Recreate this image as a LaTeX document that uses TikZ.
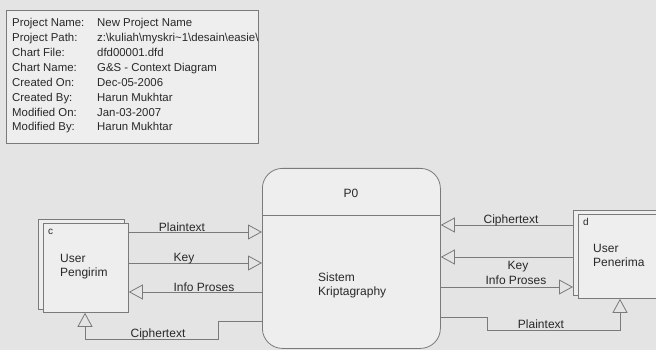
\documentclass[tikz,border=0pt]{standalone}
\usepackage{fontspec}
\setmainfont{Liberation Sans}
\usetikzlibrary{arrows.meta}
\definecolor{bg}{HTML}{E4E4E4}
\definecolor{boxfill}{HTML}{EEEEEE}
\definecolor{ln}{HTML}{7A7A7A}
\definecolor{txt}{HTML}{282828}
\begin{document}
\begin{tikzpicture}[x=1pt,y=-1pt,
  infotxt/.style={font=\fontsize{11.4}{13}\selectfont, text=txt, inner sep=0pt, anchor=base west},
  dtxt/.style={font=\fontsize{12}{14}\selectfont, text=txt, inner sep=0pt},
  tagtxt/.style={font=\fontsize{10}{12}\selectfont, text=txt, inner sep=0pt, anchor=base west},
  flowlbl/.style={dtxt, anchor=base},
  entbox/.style={draw=ln, fill=boxfill, line width=0.8pt, anchor=north west, inner sep=0pt},
  arr/.style={draw=ln, line width=0.8pt, -{Triangle[open, length=14pt, width=15pt]}},
]
\useasboundingbox (0,0) rectangle (656,350);
\clip (0,0) rectangle (656,350);
\fill[bg] (0,0) rectangle (656,350);

% info box
\node[entbox, minimum width=252pt, minimum height=133pt] (info) at (6,10) {};
\node[infotxt] (l1) at (12,27) {Project Name:};
\node[infotxt] (l2) at (12,41.9) {Project Path:};
\node[infotxt] (l3) at (12,56.7) {Chart File:};
\node[infotxt] (l4) at (12,71.6) {Chart Name:};
\node[infotxt] (l5) at (12,86.4) {Created On:};
\node[infotxt] (l6) at (12,101.3) {Created By:};
\node[infotxt] (l7) at (12,116.1) {Modified On:};
\node[infotxt] (l8) at (12,131) {Modified By:};
\node[infotxt] (v1) at (97,27) {New Project Name};
\node[infotxt] (v2) at (97,41.9) {z:\textbackslash kuliah\textbackslash myskri\textasciitilde 1\textbackslash desain\textbackslash easie\textbackslash};
\node[infotxt] (v3) at (97,56.7) {dfd00001.dfd};
\node[infotxt] (v4) at (97,71.6) {G\&S - Context Diagram};
\node[infotxt] (v5) at (97,86.4) {Dec-05-2006};
\node[infotxt] (v6) at (97,101.3) {Harun Mukhtar};
\node[infotxt] (v7) at (97,116.1) {Jan-03-2007};
\node[infotxt] (v8) at (97,131) {Harun Mukhtar};

% entity c
\node[entbox, minimum width=86pt, minimum height=90pt] (cback) at (38,219) {};
\node[entbox, minimum width=85pt, minimum height=89pt] (c) at (43,223) {};
\node[tagtxt] (ctag) at (48,234) {c};
\node[dtxt, anchor=base west] (cu) at (60,262) {User};
\node[dtxt, anchor=base west] (cp) at (60,276) {Pengirim};

% entity d
\node[entbox, minimum width=90pt, minimum height=85pt] (dback) at (573,210) {};
\node[entbox, minimum width=90pt, minimum height=84pt] (d) at (578,214) {};
\node[tagtxt] (dtag) at (583,225) {d};
\node[dtxt, anchor=base west] (du) at (593,252) {User};
\node[dtxt, anchor=base west] (dp) at (593,266) {Penerima};

% process P0
\node[draw=ln, fill=boxfill, line width=0.8pt, rounded corners=20pt, anchor=north west,
      minimum width=178pt, minimum height=180pt, inner sep=0pt] (p0) at (262,168) {};
\draw[ln, line width=0.8pt] (p0.west |- 0,215) -- (p0.east |- 0,215);
\node[dtxt, anchor=base] (p0id) at (351,197) {P0};
\node[dtxt, anchor=base west] (ps1) at (318,281) {Sistem};
\node[dtxt, anchor=base west] (ps2) at (318,295) {Kriptagraphy};

% left flows
\draw[arr] (c.east |- 0,232) -- (p0.west |- 0,232);
\node[flowlbl] (f1) at (182,231) {Plaintext};
\draw[arr] (c.east |- 0,263) -- (p0.west |- 0,263);
\node[flowlbl] (f2) at (184,261) {Key};
\draw[arr] (p0.west |- 0,292) -- (c.east |- 0,292);
\node[flowlbl] (f3) at (204,291) {Info Proses};
\draw[arr] (p0.west |- 0,321) -- (218,321) -- (218,339) -- (85,339) -- (85,0 |- c.south);
\node[flowlbl] (f4) at (158,337) {Ciphertext};

% right flows
\draw[arr] (dback.west |- 0,225) -- (p0.east |- 0,225);
\node[flowlbl] (f5) at (511,223) {Ciphertext};
\draw[arr] (dback.west |- 0,257) -- (p0.east |- 0,257);
\node[flowlbl] (f6) at (518,269) {Key};
\draw[arr] (p0.east |- 0,287) -- (dback.west |- 0,287);
\node[flowlbl] (f7) at (516,284) {Info Proses};
\draw[arr] (p0.east |- 0,317) -- (487,317) -- (487,330) -- (620,330) -- (620,0 |- d.south);
\node[flowlbl] (f8) at (541,328) {Plaintext};
\end{tikzpicture}
\end{document}
